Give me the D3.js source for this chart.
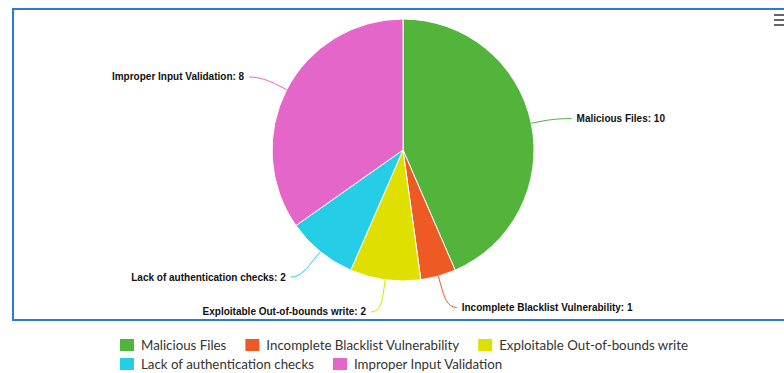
<!DOCTYPE html>
<html>
<head>
<meta charset="utf-8">
<script src="https://cdn.jsdelivr.net/npm/d3@7"></script>
<style>
  body { margin: 0; background: #fff; }
</style>
</head>
<body>
<div class="chart"></div>
<script>
// chart size
const width = 784;
const height = 373;

const categories = [
  "Malicious Files",
  "Incomplete Blacklist Vulnerability",
  "Exploitable Out-of-bounds write",
  "Lack of authentication checks",
  "Improper Input Validation"
];
const values = [10, 1, 2, 2, 8];
const colors = ["#52b43a", "#ee5a24", "#dfe000", "#26cde6", "#e566c9"];

const data = categories.map((c, i) => ({ name: c, value: values[i], color: colors[i] }));

const cx = 403, cy = 150, radius = 131;
const distance = 31;

const svg = d3.select('.chart')
  .append('svg')
  .attr('width', width)
  .attr('height', height);

// frame
svg.append('rect')
  .attr('x', 13).attr('y', 9)
  .attr('width', 790).attr('height', 311)
  .attr('fill', 'none')
  .attr('stroke', '#2a7bd2')
  .attr('stroke-width', 2);

// menu icon
const menu = svg.append('g').attr('fill', '#666');
[0, 5, 10].forEach(dy => {
  menu.append('rect').attr('x', 774).attr('y', 14 + dy).attr('width', 12).attr('height', 2);
});

const pie = d3.pie().sort(null).value(d => d.value);
const arcs = pie(data);
const arc = d3.arc().innerRadius(0).outerRadius(radius);

const g = svg.append('g').attr('transform', `translate(${cx},${cy})`);

g.selectAll('path.slice')
  .data(arcs)
  .join('path')
    .attr('class', 'slice')
    .attr('d', arc)
    .attr('fill', d => d.data.color)
    .attr('stroke', '#fff')
    .attr('stroke-width', 1);

// labels + connectors
function pos(a, r) {
  return [Math.sin(a) * r, -Math.cos(a) * r];
}

arcs.forEach(d => {
  const mid = (d.startAngle + d.endAngle) / 2;
  const dir = Math.sin(mid) >= 0 ? 1 : -1;
  const [px, py0] = pos(mid, radius + distance);
  const py = py0 + 1.5;
  const [mx, my] = pos(mid, radius + 10);
  const [ex, ey] = pos(mid, radius);
  const p = d3.path();
  p.moveTo(px + dir * 10, py);
  p.bezierCurveTo(px, py, 2 * mx - ex, 2 * my - ey, mx, my);
  p.lineTo(ex, ey);
  g.append('path')
    .attr('d', p.toString())
    .attr('fill', 'none')
    .attr('stroke', d.data.color)
    .attr('stroke-width', 1);
  g.append('text')
    .attr('x', px + dir * 15)
    .attr('y', py)
    .attr('dy', '0.35em')
    .attr('text-anchor', dir > 0 ? 'start' : 'end')
    .style('font', 'bold 10px "Liberation Sans", Arial, sans-serif')
    .style('fill', '#111')
    .text(`${d.data.name}: ${d.data.value}`);
});

// legend (flow layout)
const legend = svg.append('g');
const legendLeft = 120, legendTop = 339, rowH = 19, symW = 14, symH = 12, symPad = 7, itemGap = 19, maxRight = 710;
let lx = legendLeft, ly = legendTop;
data.forEach(d => {
  const item = legend.append('g');
  const t = item.append('text')
    .style('font', '13.3px Lato, "DejaVu Sans", sans-serif')
    .style('fill', '#333')
    .text(d.name);
  const w = t.node().getComputedTextLength();
  if (lx + symW + symPad + w > maxRight) {
    lx = legendLeft;
    ly += rowH;
  }
  item.append('rect')
    .attr('x', lx).attr('y', ly)
    .attr('width', symW).attr('height', symH)
    .attr('fill', d.color);
  t.attr('x', lx + symW + symPad).attr('y', ly + symH / 2).attr('dy', '0.35em');
  lx += symW + symPad + w + itemGap;
});
</script>
</body>
</html>
